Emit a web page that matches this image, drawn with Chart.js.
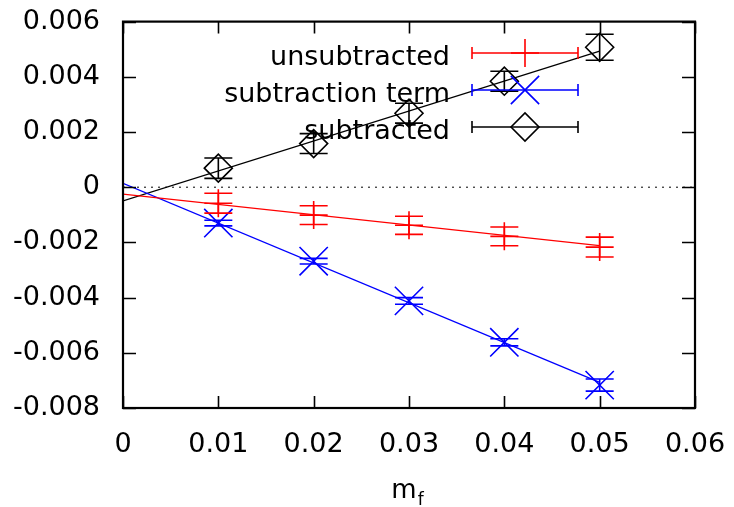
<!DOCTYPE html>
<html>
<head>
<meta charset="utf-8">
<script src="https://cdn.jsdelivr.net/npm/chart.js@4/dist/chart.umd.min.js"></script>
<style>
  html, body { margin: 0; padding: 0; background: #fff; }
  #wrap { width: 734px; height: 507px; }
</style>
</head>
<body>
<div id="wrap"><canvas id="c" width="734" height="507"></canvas></div>
<script>
// Quark mass values
const massValues = [0.01, 0.02, 0.03, 0.04, 0.05];

// Unsubtracted result and its errors
const unsubtracted    = [-0.00058, -0.00101, -0.00138, -0.00178, -0.00217];
const unsubtractedErr = [0.00036, 0.00034, 0.00033, 0.00034, 0.00036];

// Subtraction term and its errors
const subtractionTerm    = [-0.00130, -0.00268, -0.00412, -0.00562, -0.00717];
const subtractionTermErr = [0.00010, 0.00010, 0.00012, 0.00013, 0.00022];

// Subtracted result and its errors
const subtracted    = [0.00069, 0.00158, 0.00268, 0.00384, 0.00507];
const subtractedErr = [0.00037, 0.00036, 0.00036, 0.00036, 0.00047];

// Linear fits: value at m_f = 0 and at m_f = 0.05
const fitRange        = [0, 0.05];
const fitUnsubtracted = [-0.00025, -0.00212];
const fitSubtraction  = [0.00014, -0.00707];
const fitSubtracted   = [-0.00050, 0.00493];

// Axis ticks
const xTickLabels = ['0', '0.01', '0.02', '0.03', '0.04', '0.05', '0.06'];
const yTickLabels = ['-0.008', '-0.006', '-0.004', '-0.002', '0', '0.002', '0.004', '0.006'];

const seriesNames = ['unsubtracted', 'subtraction term', 'subtracted'];

const RED = '#ff0000';
const BLUE = '#0000ff';
const BLACK = '#000000';
const FONT = 'DejaVu Sans';

const pts = (xs, ys) => xs.map((x, i) => ({ x: x, y: ys[i] }));

function pointSet(label, ys, errs, color, style, radius) {
  return {
    label: label,
    data: pts(massValues, ys),
    errorBars: errs,
    showLine: false,
    borderColor: color,
    backgroundColor: 'rgba(0,0,0,0)',
    pointStyle: style,
    pointRadius: radius,
    pointHoverRadius: radius,
    pointBorderWidth: 1.6,
    inLegend: true
  };
}

function fitSet(ys, color) {
  return {
    data: pts(fitRange, ys),
    showLine: true,
    borderColor: color,
    borderWidth: 1.3,
    pointRadius: 0,
    pointHoverRadius: 0,
    fill: false
  };
}

// Fixed axis thickness, no extra label overhang
function fixAxis(size, horizontal) {
  return s => {
    if (horizontal) s.height = size; else s.width = size;
    s.paddingTop = 0; s.paddingBottom = 0;
    s.paddingLeft = 0; s.paddingRight = 0;
  };
}

// Vertical error bars with horizontal caps
const errorBarPlugin = {
  id: 'errorBars',
  afterDatasetsDraw(chart) {
    const ctx = chart.ctx;
    const xs = chart.scales.x, ys = chart.scales.y;
    chart.data.datasets.forEach(ds => {
      if (!ds.errorBars) return;
      ctx.save();
      ctx.strokeStyle = ds.borderColor;
      ctx.lineWidth = 1.6;
      ds.data.forEach((p, i) => {
        const e = ds.errorBars[i];
        const px = xs.getPixelForValue(p.x);
        const top = ys.getPixelForValue(p.y + e);
        const bot = ys.getPixelForValue(p.y - e);
        const cap = 14;
        ctx.beginPath();
        ctx.moveTo(px, top); ctx.lineTo(px, bot);
        ctx.moveTo(px - cap, top); ctx.lineTo(px + cap, top);
        ctx.moveTo(px - cap, bot); ctx.lineTo(px + cap, bot);
        ctx.stroke();
      });
      ctx.restore();
    });
  }
};

// Closed frame with inward tick marks on all four sides
const framePlugin = {
  id: 'frame',
  afterDraw(chart) {
    const ctx = chart.ctx;
    const a = chart.chartArea;
    const xs = chart.scales.x, ys = chart.scales.y;
    ctx.save();
    ctx.strokeStyle = BLACK;
    ctx.lineWidth = 1.6;
    ctx.beginPath();
    xs.ticks.forEach(t => {
      const px = Math.round(xs.getPixelForValue(t.value)) + 0.5;
      ctx.moveTo(px, a.bottom); ctx.lineTo(px, a.bottom - 12);
      ctx.moveTo(px, a.top); ctx.lineTo(px, a.top + 12);
    });
    ys.ticks.forEach(t => {
      const py = Math.round(ys.getPixelForValue(t.value)) + 0.5;
      ctx.moveTo(a.left, py); ctx.lineTo(a.left + 13, py);
      ctx.moveTo(a.right, py); ctx.lineTo(a.right - 13, py);
    });
    ctx.stroke();
    ctx.lineWidth = 2.2;
    ctx.strokeRect(a.left, a.top, a.right - a.left, a.bottom - a.top);
    ctx.restore();
  }
};

// Key in the upper part of the plot: name, then an error-bar sample with its marker
const keyPlugin = {
  id: 'key',
  afterDraw(chart) {
    const ctx = chart.ctx;
    const textRight = 450, lineL = 472, lineR = 578, mid = 525;
    const rows = [53, 90, 127];
    const sets = chart.data.datasets.filter(d => d.inLegend);
    ctx.save();
    ctx.font = '27px "' + FONT + '"';
    ctx.textAlign = 'right';
    ctx.textBaseline = 'alphabetic';
    sets.forEach((ds, i) => {
      const y = rows[i];
      ctx.fillStyle = BLACK;
      ctx.fillText(ds.label, textRight, y + 12);
      ctx.strokeStyle = ds.borderColor;
      ctx.lineWidth = 1.6;
      ctx.beginPath();
      ctx.moveTo(lineL, y); ctx.lineTo(lineR, y);
      ctx.moveTo(lineL, y - 6); ctx.lineTo(lineL, y + 6);
      ctx.moveTo(lineR, y - 6); ctx.lineTo(lineR, y + 6);
      ctx.stroke();
      ctx.fillStyle = 'rgba(0,0,0,0)';
      Chart.helpers.drawPoint(ctx, {
        pointStyle: ds.pointStyle,
        radius: ds.pointRadius,
        rotation: 0,
        borderWidth: 1.6
      }, mid, y);
    });
    ctx.restore();
  }
};

// x-axis title: m with subscript f
const xTitlePlugin = {
  id: 'xTitle',
  afterDraw(chart) {
    const ctx = chart.ctx;
    const a = chart.chartArea;
    const cx = (a.left + a.right) / 2;
    ctx.save();
    ctx.fillStyle = BLACK;
    ctx.textBaseline = 'alphabetic';
    ctx.textAlign = 'left';
    ctx.font = '26px "' + FONT + '"';
    const wm = ctx.measureText('m').width;
    ctx.font = '17px "' + FONT + '"';
    const wf = ctx.measureText('f').width;
    const x0 = cx - (wm + wf) / 2 - 2;
    ctx.font = '26px "' + FONT + '"';
    ctx.fillText('m', x0, 498);
    ctx.font = '17px "' + FONT + '"';
    ctx.fillText('f', x0 + wm + 1, 505);
    ctx.restore();
  }
};

new Chart(document.getElementById('c'), {
  type: 'scatter',
  data: {
    datasets: [
      pointSet(seriesNames[0], unsubtracted, unsubtractedErr, RED, 'cross', 14),
      pointSet(seriesNames[1], subtractionTerm, subtractionTermErr, BLUE, 'crossRot', 20),
      pointSet(seriesNames[2], subtracted, subtractedErr, BLACK, 'rectRot', 14),
      fitSet(fitUnsubtracted, RED),
      fitSet(fitSubtraction, BLUE),
      fitSet(fitSubtracted, BLACK),
      {
        data: pts([0, 0.06], [0, 0]),
        showLine: true,
        borderColor: BLACK,
        borderWidth: 1,
        borderDash: [2, 5],
        pointRadius: 0,
        pointHoverRadius: 0
      }
    ]
  },
  options: {
    responsive: false,
    devicePixelRatio: 1,
    animation: false,
    events: [],
    layout: { padding: { top: 21, right: 39, left: 0, bottom: 0 } },
    plugins: {
      legend: { display: false },
      tooltip: { enabled: false },
      title: { display: false }
    },
    scales: {
      x: {
        type: 'linear',
        min: 0, max: 0.06,
        grid: { display: false, drawTicks: false },
        border: { display: false },
        ticks: {
          stepSize: 0.01,
          padding: 21,
          color: BLACK,
          font: { family: FONT, size: 27 },
          maxRotation: 0,
          callback: (v, i) => xTickLabels[i]
        },
        afterFit: fixAxis(99, true)
      },
      y: {
        type: 'linear',
        min: -0.008, max: 0.006,
        grid: { display: false, drawTicks: false },
        border: { display: false },
        ticks: {
          stepSize: 0.002,
          padding: 23,
          color: BLACK,
          font: { family: FONT, size: 27 },
          callback: (v, i) => yTickLabels[i]
        },
        afterFit: fixAxis(123, false)
      }
    }
  },
  plugins: [errorBarPlugin, framePlugin, keyPlugin, xTitlePlugin]
});
</script>
</body>
</html>
